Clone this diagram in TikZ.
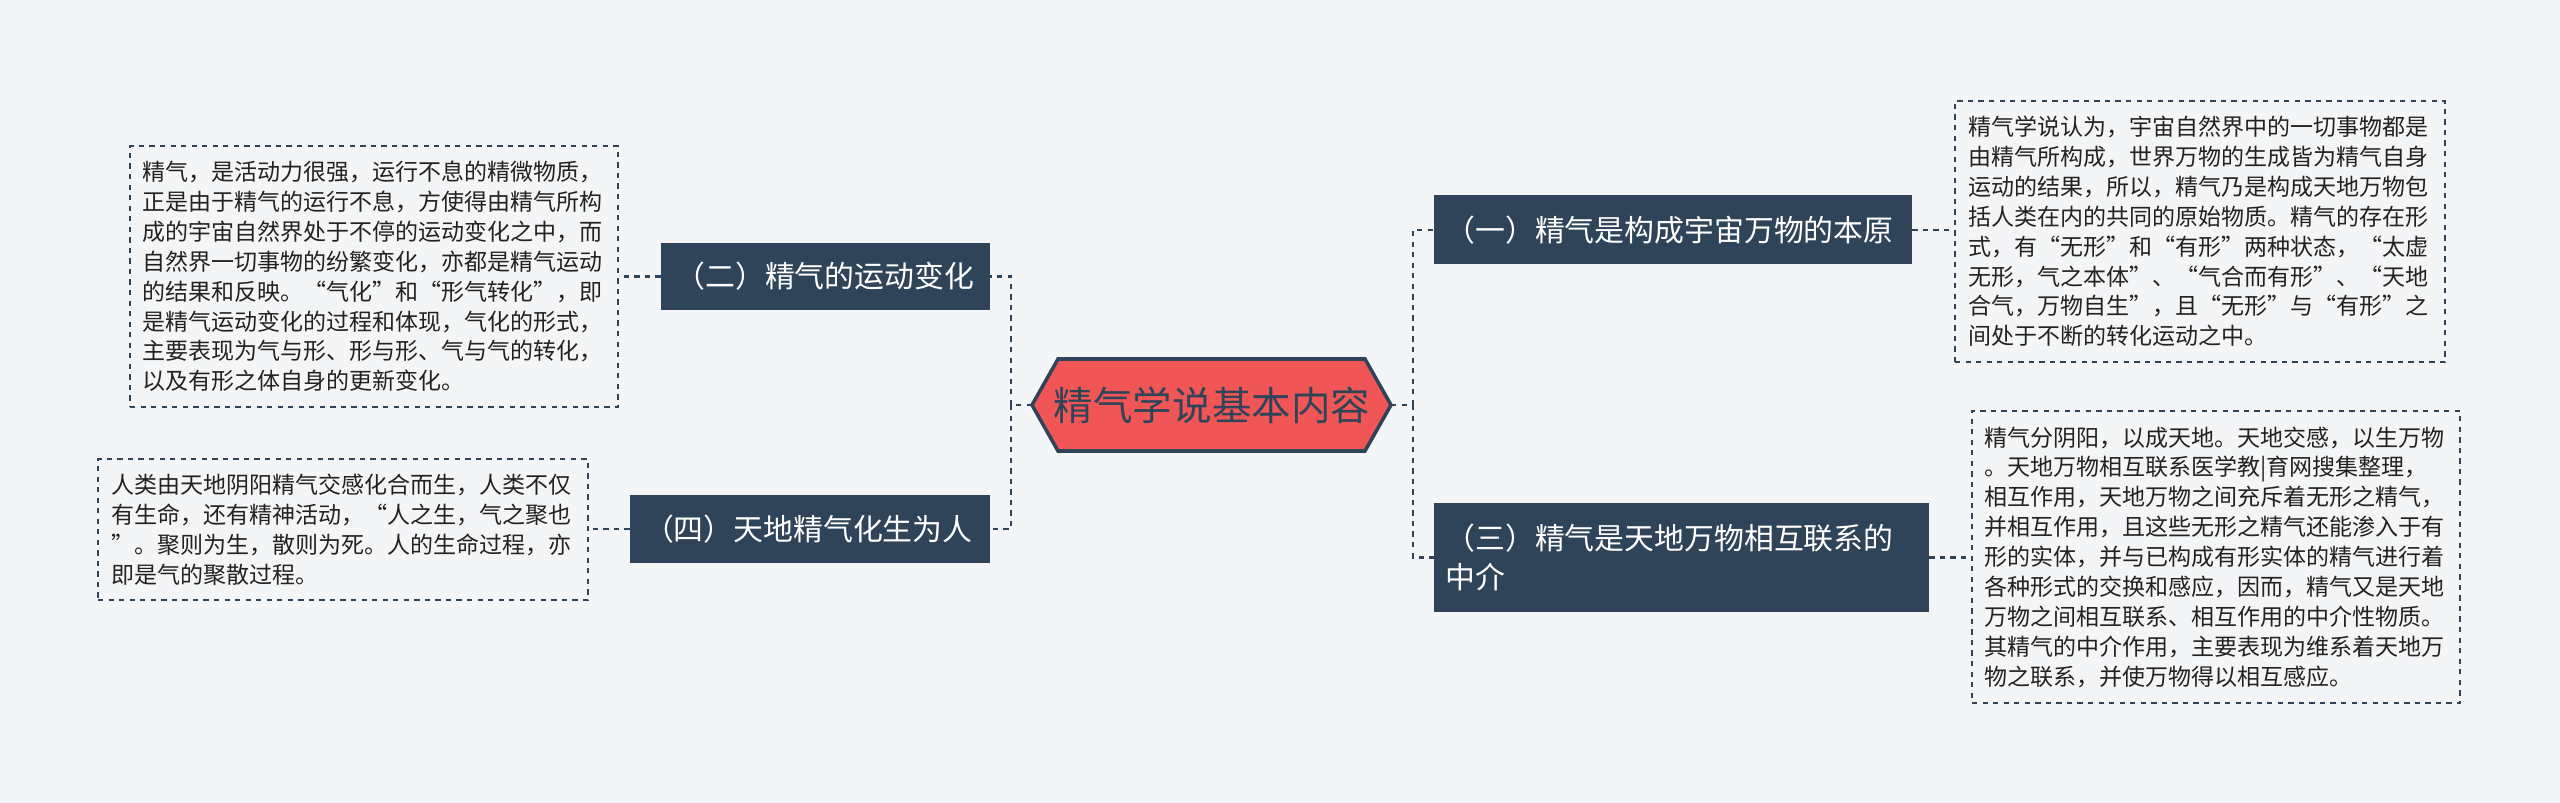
\documentclass[tikz,border=0pt]{standalone}
\usepackage{fontspec}
\setmainfont{Noto Sans CJK SC}
\definecolor{bg}{HTML}{F4F5F6}
\definecolor{slate}{HTML}{2F4459}
\definecolor{hexred}{HTML}{F05656}
\definecolor{txt}{HTML}{222222}
\tikzset{
  br/.style={fill=slate,text=white,font=\fontsize{17}{22}\selectfont,inner sep=0pt,align=left},
  leaf/.style={draw=slate,dashed,line width=1pt,fill=bg,text=txt,inner sep=0pt,align=left,font=\fontsize{13.1}{17}\selectfont},
  conn/.style={draw=slate,dashed,line width=1.3pt}
}
\begin{document}
\begin{tikzpicture}[x=0.02cm,y=-0.02cm]
\fill[bg] (0,0) rectangle (2560,803);
\useasboundingbox (0,0) rectangle (2560,803);
% center hexagon
\draw[fill=hexred,draw=slate,line width=2pt] (1032,405) -- (1058,359) -- (1365,359) -- (1391,405) -- (1365,451) -- (1058,451) -- cycle;
\node[text=slate,font=\fontsize{22.5}{26}\selectfont] (c) at (1212,405) {精气学说基本内容};
\coordinate (cl) at (1032,405);
\coordinate (cr) at (1391,405);
% branches
\node[br,minimum width=478*0.02cm,minimum height=69*0.02cm,text width=455*0.02cm] (b1) at (1673,230) {（一）精气是构成宇宙万物的本原};
\node[br,minimum width=495*0.02cm,minimum height=109*0.02cm,text width=472*0.02cm] (b3) at (1681.5,557.5) {（三）精气是天地万物相互联系的\\中介};
\node[br,minimum width=329*0.02cm,minimum height=67*0.02cm,text width=300*0.02cm] (b2) at (825.5,276.5) {（二）精气的运动变化};
\node[br,minimum width=360*0.02cm,minimum height=68*0.02cm,text width=332*0.02cm] (b4) at (810,529) {（四）天地精气化生为人};
% leaves
\node[leaf,minimum width=490*0.02cm,minimum height=261*0.02cm,text width=464*0.02cm] (l1) at (2200,231.5) {精气学说认为，宇宙自然界中的一切事物都是\\由精气所构成，世界万物的生成皆为精气自身\\运动的结果，所以，精气乃是构成天地万物包\\括人类在内的共同的原始物质。精气的存在形\\式，有“无形”和“有形”两种状态，“太虚\\无形，气之本体”、“气合而有形”、“天地\\合气，万物自生”，且“无形”与“有形”之\\间处于不断的转化运动之中。};
\node[leaf,minimum width=488*0.02cm,minimum height=292*0.02cm,text width=464*0.02cm] (l3) at (2216,557) {精气分阴阳，以成天地。天地交感，以生万物\\。天地万物相互联系医学教|育网搜集整理，\\相互作用，天地万物之间充斥着无形之精气，\\并相互作用，且这些无形之精气还能渗入于有\\形的实体，并与已构成有形实体的精气进行着\\各种形式的交换和感应，因而，精气又是天地\\万物之间相互联系、相互作用的中介性物质。\\其精气的中介作用，主要表现为维系着天地万\\物之联系，并使万物得以相互感应。};
\node[leaf,minimum width=488*0.02cm,minimum height=261*0.02cm,text width=464*0.02cm] (l2) at (374,276.5) {精气，是活动力很强，运行不息的精微物质，\\正是由于精气的运行不息，方使得由精气所构\\成的宇宙自然界处于不停的运动变化之中，而\\自然界一切事物的纷繁变化，亦都是精气运动\\的结果和反映。“气化”和“形气转化”，即\\是精气运动变化的过程和体现，气化的形式，\\主要表现为气与形、形与形、气与气的转化，\\以及有形之体自身的更新变化。};
\node[leaf,minimum width=490*0.02cm,minimum height=141*0.02cm,text width=464*0.02cm] (l4) at (343,529.5) {人类由天地阴阳精气交感化合而生，人类不仅\\有生命，还有精神活动，“人之生，气之聚也\\”。聚则为生，散则为死。人的生命过程，亦\\即是气的聚散过程。};
% connectors
\coordinate (sl) at (1011,405);
\coordinate (sr) at (1413,405);
\draw[conn] (cl) -- (sl);
\draw[conn] (sl) |- (b2.east);
\draw[conn] (sl) |- (b4.east);
\draw[conn] (cr) -- (sr);
\draw[conn] (sr) |- (b1.west);
\draw[conn] (sr) |- (b3.west);
\draw[conn] (b1.east) -- (b1.east -| l1.west);
\draw[conn] (b3.east) -- (b3.east -| l3.west);
\draw[conn] (b2.west) -- (b2.west -| l2.east);
\draw[conn] (b4.west) -- (b4.west -| l4.east);
\end{tikzpicture}
\end{document}
